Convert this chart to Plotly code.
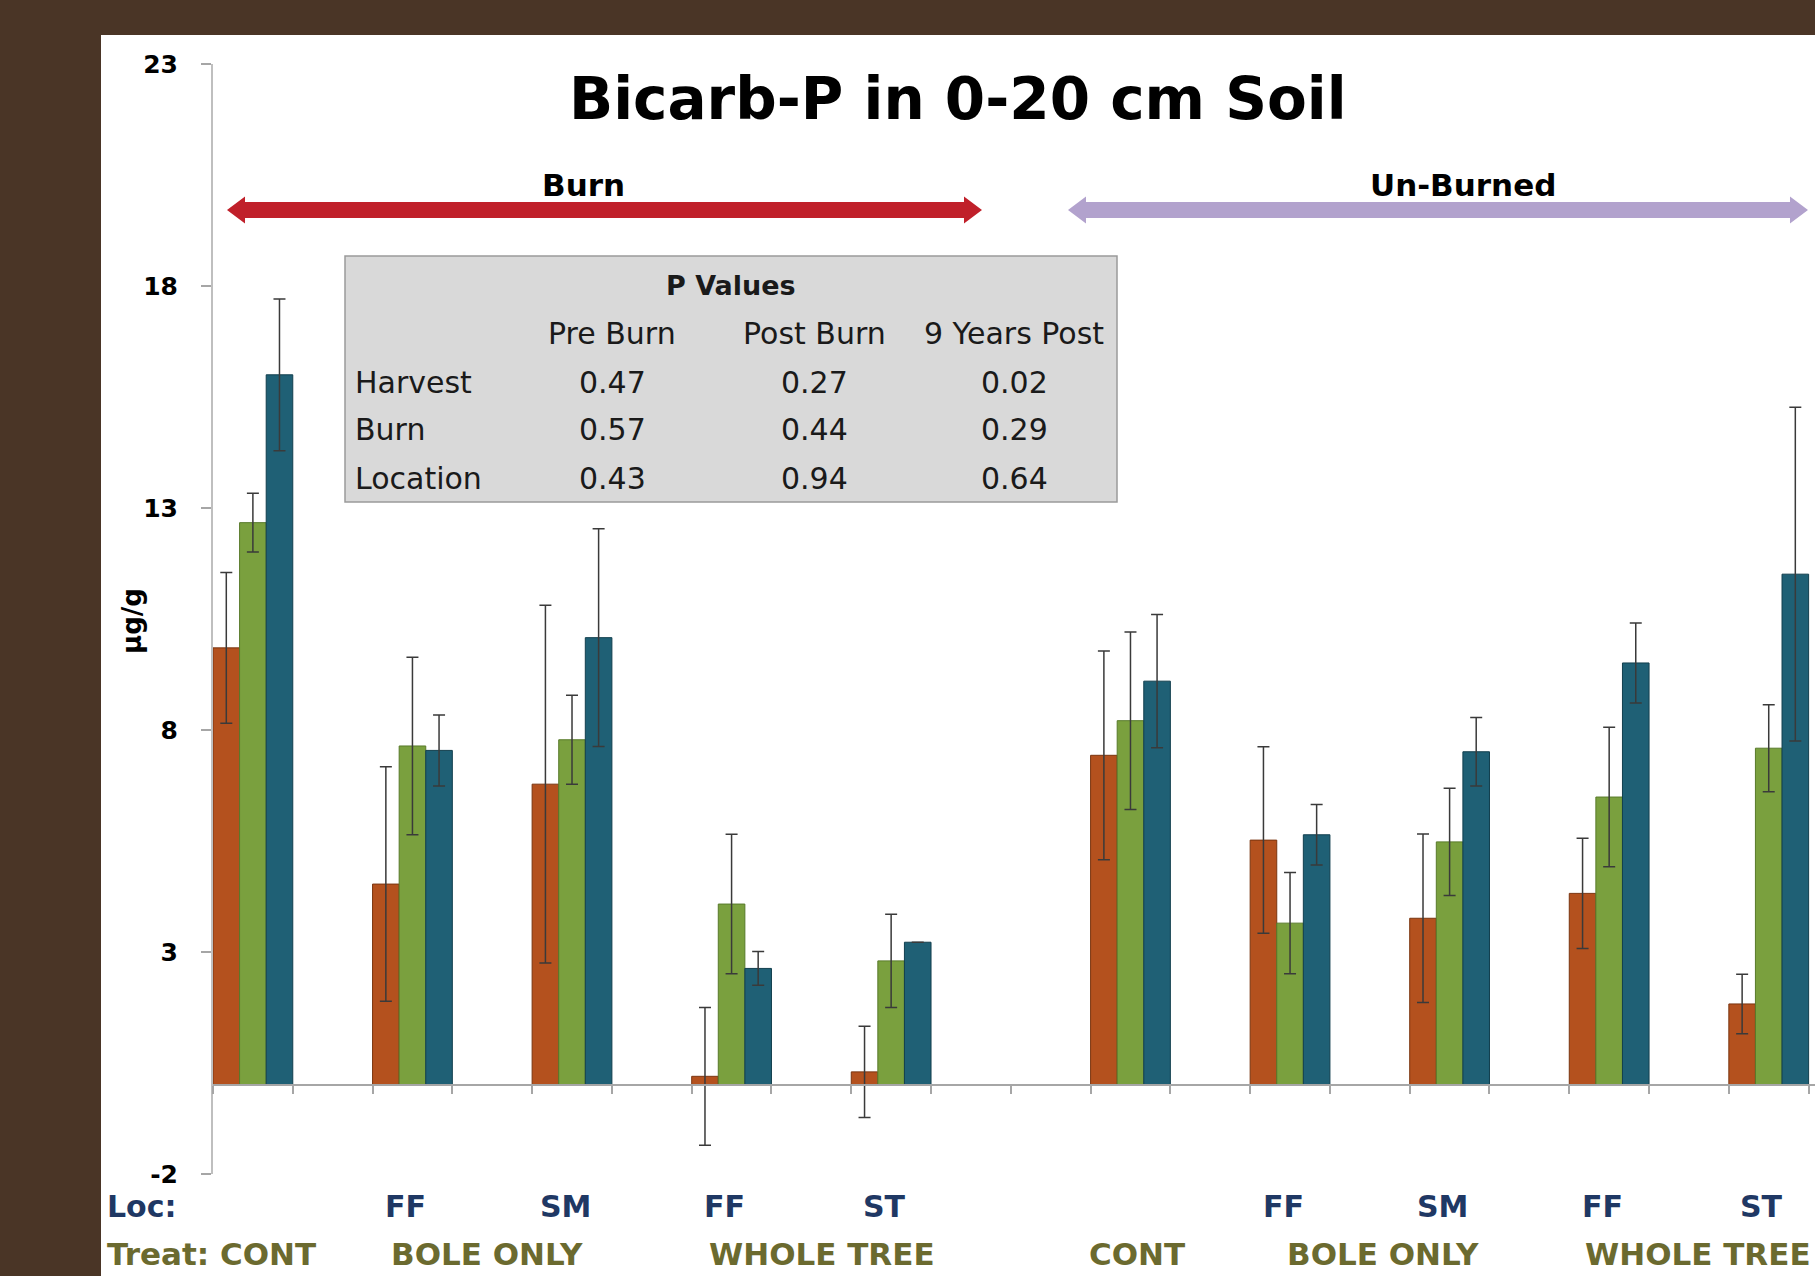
import plotly.graph_objects as go

# ---------------- data ----------------
group_slots = [0, 2, 4, 6, 8, 11, 13, 15, 17, 19]   # category slot of each bar group
loc_labels = ["", "FF", "SM", "FF", "ST", "", "FF", "SM", "FF", "ST"]
treat_labels = ["Treat: CONT", "BOLE ONLY", "WHOLE TREE", "CONT", "BOLE ONLY", "WHOLE TREE"]

series_names = ["Pre Burn", "Post Burn", "9 Years Post"]
pre_burn = [9.85, 4.53, 6.78, 0.20, 0.30, 7.43, 5.52, 3.76, 4.32, 1.83]
pre_burn_err = [1.70, 2.64, 4.03, 1.55, 1.03, 2.35, 2.10, 1.90, 1.24, 0.67]
post_burn = [12.67, 7.64, 7.78, 4.08, 2.80, 8.21, 3.65, 5.48, 6.49, 7.59]
post_burn_err = [0.66, 2.00, 1.00, 1.57, 1.05, 2.00, 1.14, 1.21, 1.57, 0.98]
years9 = [16.00, 7.54, 10.08, 2.63, 3.22, 9.10, 5.64, 7.51, 9.51, 11.51]
years9_err = [1.71, 0.80, 2.45, 0.38, None, 1.50, 0.68, 0.77, 0.90, 3.76]

y_ticks = [-2, 3, 8, 13, 18, 23]
y_tick_text = ["-2", "3", "8", "13", "18", "23"]

table_title = "P Values"
table_cols = ["Pre Burn", "Post Burn", "9 Years Post"]
table_rows = ["Harvest", "Burn", "Location"]
table_vals = [["0.47", "0.27", "0.02"],
              ["0.57", "0.44", "0.29"],
              ["0.43", "0.94", "0.64"]]

# ---------------- geometry helpers (pixel -> paper) ----------------
FW, FH = 1815, 1276
L, R, T, B = 213, 1815, 64, 1174
W, H = R - L, B - T


def px(x):
    return (x - L) / W


def py(y):
    return (B - y) / H


def arrow_path(x0, x1, yc, hs=8, hh=13.5, hl=18):
    pts = [(x0, yc), (x0 + hl, yc - hh), (x0 + hl, yc - hs), (x1 - hl, yc - hs),
           (x1 - hl, yc - hh), (x1, yc), (x1 - hl, yc + hh), (x1 - hl, yc + hs),
           (x0 + hl, yc + hs), (x0 + hl, yc + hh)]
    return "M " + " L ".join(f"{px(a):.5f},{py(b):.5f}" for a, b in pts) + " Z"


FAM = "DejaVu Sans, sans-serif"


def bfont(size, color="black"):
    return dict(family=FAM, size=size, color=color, weight="bold")


def rfont(size, color="#1a1a1a"):
    return dict(family=FAM, size=size, color=color)


fig = go.Figure()

styles = [
    (pre_burn, pre_burn_err, "#b4511e", "#7a3510", -0.5),
    (post_burn, post_burn_err, "#7aa03e", "#587a2a", -0.5 + 1 / 3),
    (years9, years9_err, "#1f6075", "#123f4e", -0.5 + 2 / 3),
]
for name, (vals, errs, col, lcol, off) in zip(series_names, styles):
    fig.add_trace(go.Bar(
        x=group_slots, y=vals, name=name, width=1 / 3, offset=off,
        marker=dict(color=col, line=dict(color=lcol, width=1)),
        error_y=dict(type="data", array=errs, visible=True, color="#3a3a3a",
                     thickness=1.5, width=6),
        showlegend=False, hoverinfo="x+y+name"))

shapes = [
    # white slide panel
    dict(type="rect", xref="paper", yref="paper", x0=px(101), x1=px(FW + 5),
         y0=py(FH + 5), y1=py(35), fillcolor="white", line=dict(width=0), layer="below"),
    # arrows
    dict(type="path", xref="paper", yref="paper", path=arrow_path(227, 982, 210),
         fillcolor="#c0202a", line=dict(width=0)),
    dict(type="path", xref="paper", yref="paper", path=arrow_path(1068, 1808, 210),
         fillcolor="#b2a2cd", line=dict(width=0)),
    # p-values table box
    dict(type="rect", xref="paper", yref="paper", x0=px(345), x1=px(1117),
         y0=py(502), y1=py(256), fillcolor="#d9d9d9",
         line=dict(color="#9a9a9a", width=1.5)),
]

ann = []
ann.append(dict(text="Bicarb-P in 0-20 cm Soil", x=px(958), y=py(99), xref="paper", yref="paper",
                showarrow=False, xanchor="center", yanchor="middle", font=bfont(58)))
ann.append(dict(text="Burn", x=px(583), y=py(185), xref="paper", yref="paper", showarrow=False,
                xanchor="center", yanchor="middle", font=bfont(31)))
ann.append(dict(text="Un-Burned", x=px(1463), y=py(185), xref="paper", yref="paper", showarrow=False,
                xanchor="center", yanchor="middle", font=bfont(31)))
ann.append(dict(text="µg/g", x=px(132), y=py(621), xref="paper", yref="paper", showarrow=False,
                textangle=-90, xanchor="center", yanchor="middle", font=bfont(26)))

# table text
ann.append(dict(text=table_title, x=px(731), y=py(285), xref="paper", yref="paper", showarrow=False,
                xanchor="center", yanchor="middle", font=bfont(27, "#1a1a1a")))
col_centers = [612, 814, 1014]
row_ys = [383, 430, 479]
for c, cx in zip(table_cols, col_centers):
    ann.append(dict(text=c, x=px(cx), y=py(334), xref="paper", yref="paper", showarrow=False,
                    xanchor="center", yanchor="middle", font=rfont(30)))
for r, ry, rv in zip(table_rows, row_ys, table_vals):
    ann.append(dict(text=r, x=px(353), y=py(ry), xref="paper", yref="paper", showarrow=False,
                    xanchor="left", yanchor="middle", font=rfont(30)))
    for v, cx in zip(rv, col_centers):
        ann.append(dict(text=v, x=px(cx), y=py(ry), xref="paper", yref="paper", showarrow=False,
                        xanchor="center", yanchor="middle", font=rfont(30)))

# bottom category labels
NAVY = "#1f3864"
OLIVE = "#6b6a2f"
ann.append(dict(text="Loc:", x=px(105), y=py(1206), xref="paper", yref="paper", showarrow=False,
                xanchor="left", yanchor="middle", font=bfont(30, NAVY)))
for slot, lab in zip(group_slots, loc_labels):
    if lab:
        ann.append(dict(text=lab, x=slot, y=py(1206), xref="x", yref="paper", showarrow=False,
                        xanchor="center", yanchor="middle", xshift=-7, font=bfont(30, NAVY)))
treat_px = [105, 487, 822, 1137, 1383, 1583]
for i, (lab, tx) in enumerate(zip(treat_labels, treat_px)):
    anchor = "left" if i in (0, len(treat_labels) - 1) else "center"
    ann.append(dict(text=lab, x=px(tx), y=py(1254), xref="paper", yref="paper", showarrow=False,
                    xanchor=anchor, yanchor="middle", font=bfont(31, OLIVE)))

fig.update_layout(
    width=FW, height=FH, autosize=False,
    margin=dict(l=L, r=FW - R, t=T, b=FH - B, pad=0),
    paper_bgcolor="#4a3526", plot_bgcolor="rgba(0,0,0,0)",
    barmode="overlay", shapes=shapes, annotations=ann, showlegend=False,
    xaxis=dict(range=[-0.5, 19.58], anchor="free", position=2 / 25,
               tickmode="array", tickvals=[i - 0.5 for i in range(21)],
               showticklabels=False, ticks="outside", ticklen=8, tickcolor="#a6a6a6",
               tickwidth=1.5, showline=True, linecolor="#a6a6a6", linewidth=2,
               showgrid=False, zeroline=False),
    yaxis=dict(range=[-2, 23], tickmode="array", tickvals=y_ticks, ticktext=y_tick_text,
               ticks="outside", ticklen=10, tickcolor="#a6a6a6", tickwidth=1.5,
               showline=True, linecolor="#bfbfbf", linewidth=2, showgrid=False,
               zeroline=False, ticklabelstandoff=18,
               tickfont=bfont(25)),
)

fig.write_html("out.html", config={"displayModeBar": False},
               post_script="document.body.style.margin='0';document.body.style.padding='0';")
